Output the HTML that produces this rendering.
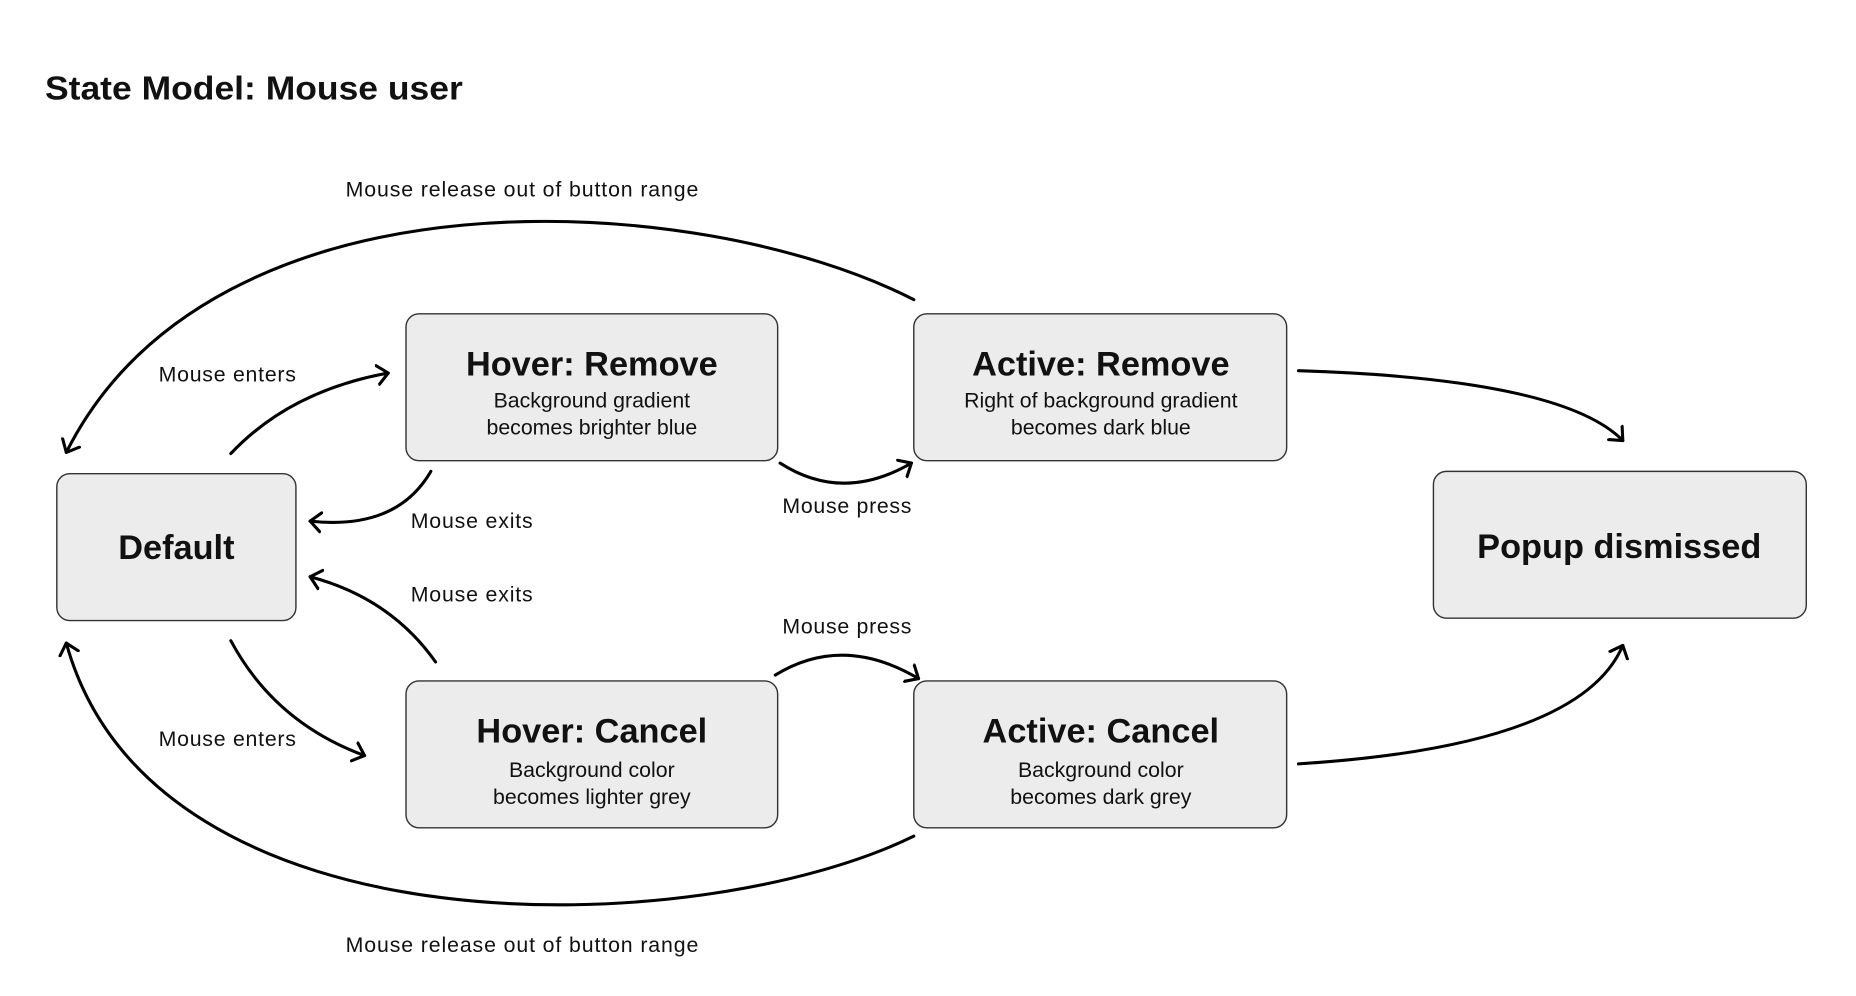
<!DOCTYPE html>
<html><head><meta charset="utf-8"><style>
html,body{margin:0;padding:0;background:#fff;}
svg{display:block;}
text{font-family:"Liberation Sans",sans-serif;fill:#111;}
.t{font-size:29px;font-weight:bold;text-anchor:middle;}
.s{font-size:18px;text-anchor:middle;}
.l{font-size:18px;}
.b{fill:#ececec;stroke:#333;stroke-width:1.2;}
.c{fill:none;stroke:#000;stroke-width:2.6;stroke-linecap:round;}
</style></head><body>
<svg width="1856" height="996" viewBox="0 0 1568 841" preserveAspectRatio="none" xmlns="http://www.w3.org/2000/svg">
<defs><marker id="a" markerWidth="20" markerHeight="20" refX="10" refY="10" orient="auto" markerUnits="userSpaceOnUse"><path d="M1,2 L10,10 L1,18" fill="none" stroke="#000" stroke-width="2.6" stroke-linecap="round" stroke-linejoin="round"/></marker></defs>
<text x="38" y="84" style="font-size:28px;font-weight:bold" textLength="353" lengthAdjust="spacingAndGlyphs">State Model: Mouse user</text>

<rect class="b" x="48" y="400" width="202" height="124" rx="11"/>
<text class="t" x="149" y="472">Default</text>
<rect class="b" x="343" y="265" width="314" height="124" rx="11"/>
<text class="t" x="500" y="317">Hover: Remove</text>
<text class="s" x="500" y="344">Background gradient</text>
<text class="s" x="500" y="367">becomes brighter blue</text>
<rect class="b" x="772" y="265" width="315" height="124" rx="11"/>
<text class="t" x="930" y="317">Active: Remove</text>
<text class="s" x="930" y="344">Right of background gradient</text>
<text class="s" x="930" y="367">becomes dark blue</text>
<rect class="b" x="1211" y="398" width="315" height="124" rx="11"/>
<text class="t" x="1368" y="471">Popup dismissed</text>
<rect class="b" x="343" y="575" width="314" height="124" rx="11"/>
<text class="t" x="500" y="627">Hover: Cancel</text>
<text class="s" x="500" y="656">Background color</text>
<text class="s" x="500" y="679">becomes lighter grey</text>
<rect class="b" x="772" y="575" width="315" height="124" rx="11"/>
<text class="t" x="930" y="627">Active: Cancel</text>
<text class="s" x="930" y="656">Background color</text>
<text class="s" x="930" y="679">becomes dark grey</text>

<path class="c" marker-end="url(#a)" d="M772,253 C590,160 180,135 56,382"/>
<path class="c" marker-end="url(#a)" d="M195,383 Q245,330 328,315"/>
<path class="c" marker-end="url(#a)" d="M364,398 Q335,448 262,440"/>
<path class="c" marker-end="url(#a)" d="M368,559 Q330,505 262,487"/>
<path class="c" marker-end="url(#a)" d="M195,541 Q232,610 308,638"/>
<path class="c" marker-end="url(#a)" d="M659,391 Q712,425 770,391"/>
<path class="c" marker-end="url(#a)" d="M655,570 Q712,535 776,573"/>
<path class="c" marker-end="url(#a)" d="M1097,313 Q1320,320 1371,372"/>
<path class="c" marker-end="url(#a)" d="M1097,645 Q1335,630 1371,545"/>
<path class="c" marker-end="url(#a)" d="M772,706 C590,795 130,810 56,543"/>

<text class="l" x="292" y="166" textLength="298">Mouse release out of button range</text>
<text class="l" x="134" y="322" textLength="116">Mouse enters</text>
<text class="l" x="347" y="446" textLength="103">Mouse exits</text>
<text class="l" x="347" y="508" textLength="103">Mouse exits</text>
<text class="l" x="134" y="630" textLength="116">Mouse enters</text>
<text class="l" x="661" y="433" textLength="109">Mouse press</text>
<text class="l" x="661" y="535" textLength="109">Mouse press</text>
<text class="l" x="292" y="804" textLength="298">Mouse release out of button range</text>
</svg>
</body></html>
